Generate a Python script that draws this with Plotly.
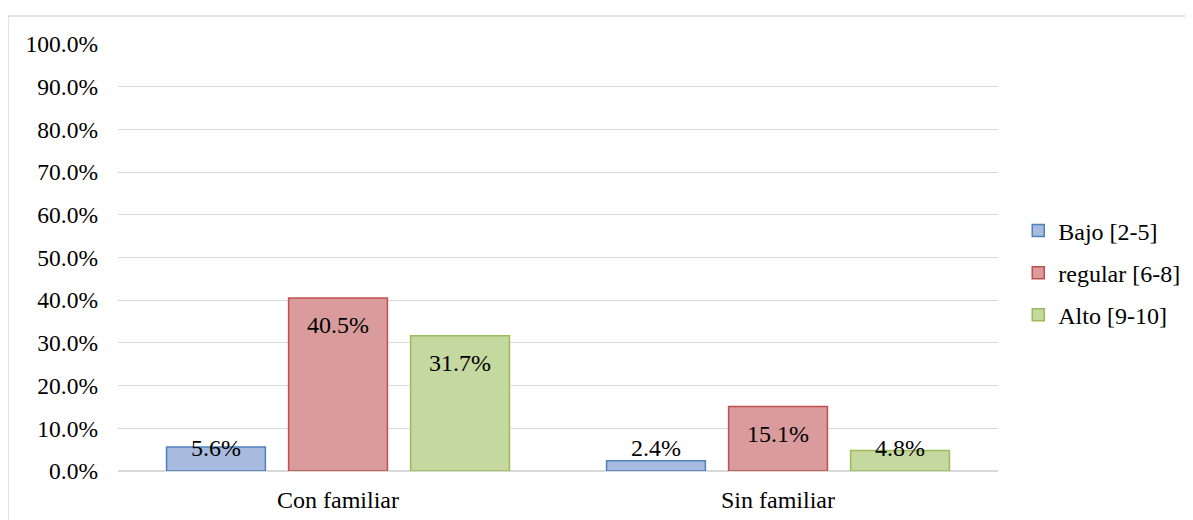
import plotly.graph_objects as go

categories = ["Con familiar", "Sin familiar"]
series_names = ["Bajo [2-5]", "regular [6-8]", "Alto [9-10]"]
bajo = [0.056, 0.024]
regular = [0.405, 0.151]
alto = [0.317, 0.048]
y_ticks = [0.0, 0.1, 0.2, 0.3, 0.4, 0.5, 0.6, 0.7, 0.8, 0.9, 1.0]

fills = ["#a6bbdd", "#d99b9b", "#c4d8a0"]
lines = ["#4f81bd", "#c0504d", "#9bbb59"]

FONT = "Liberation Serif, Times New Roman, serif"

# the page body adds an 8px margin, so the figure is a bit smaller than the window
W, H = 1185, 512
ML, MR, MT, MB = 110, 195, 36, 49
plot_w = W - ML - MR
plot_h = H - MT - MB
BARGAP = 0.168

fig = go.Figure()
for i, (name, vals) in enumerate(zip(series_names, [bajo, regular, alto])):
    fig.add_trace(go.Bar(
        name=name, x=categories, y=vals,
        marker=dict(color=fills[i], line=dict(color=lines[i], width=1.5)),
        legendgroup=name, hoverinfo="skip",
    ))

# data labels, Excel-style "inside end"; short bars get the label near the base
slot = plot_w / len(categories) * (1 - BARGAP) / 3
for i, vals in enumerate([bajo, regular, alto]):
    for cat, v in zip(categories, vals):
        if v * plot_h > 50:
            y, anchor, shift = v, "top", -12
        else:
            y, anchor, shift = 0, "bottom", 8
        fig.add_annotation(
            x=cat, y=y, text=f"{v:.1%}", showarrow=False,
            xshift=(i - 1) * slot, yanchor=anchor, yshift=shift,
            font=dict(family=FONT, size=24, color="#000000"),
        )

# chart area border
fig.add_shape(type="rect", xref="paper", yref="paper",
              x0=-110 / plot_w, x1=(1192 - 118) / plot_w,
              y0=-0.2, y1=1 + 28 / plot_h,
              line=dict(color="#d9d9d9", width=1.5), layer="below")

fig.update_layout(
    width=W, height=H,
    margin=dict(l=ML, r=MR, t=MT, b=MB, autoexpand=False),
    paper_bgcolor="white", plot_bgcolor="white",
    barmode="group", bargap=BARGAP, bargroupgap=0.19,
    font=dict(family=FONT, size=24, color="#000000"),
    showlegend=True,
    legend=dict(x=1.023, y=0.464, xanchor="left", yanchor="middle",
                tracegroupgap=8, font=dict(size=24), itemwidth=30),
    xaxis=dict(showgrid=False, showline=False, ticks="", ticklabelstandoff=12,
               automargin=False),
    yaxis=dict(range=[0, 1], tickvals=y_ticks, tickformat=".1%",
               showgrid=True, gridcolor="#d9d9d9", gridwidth=1,
               zeroline=True, zerolinecolor="#d9d9d9", zerolinewidth=1.5,
               showline=False, ticks="", ticklabelstandoff=19,
               tickfont=dict(size=23.5), automargin=False),
)

fig.write_html("out.html")
